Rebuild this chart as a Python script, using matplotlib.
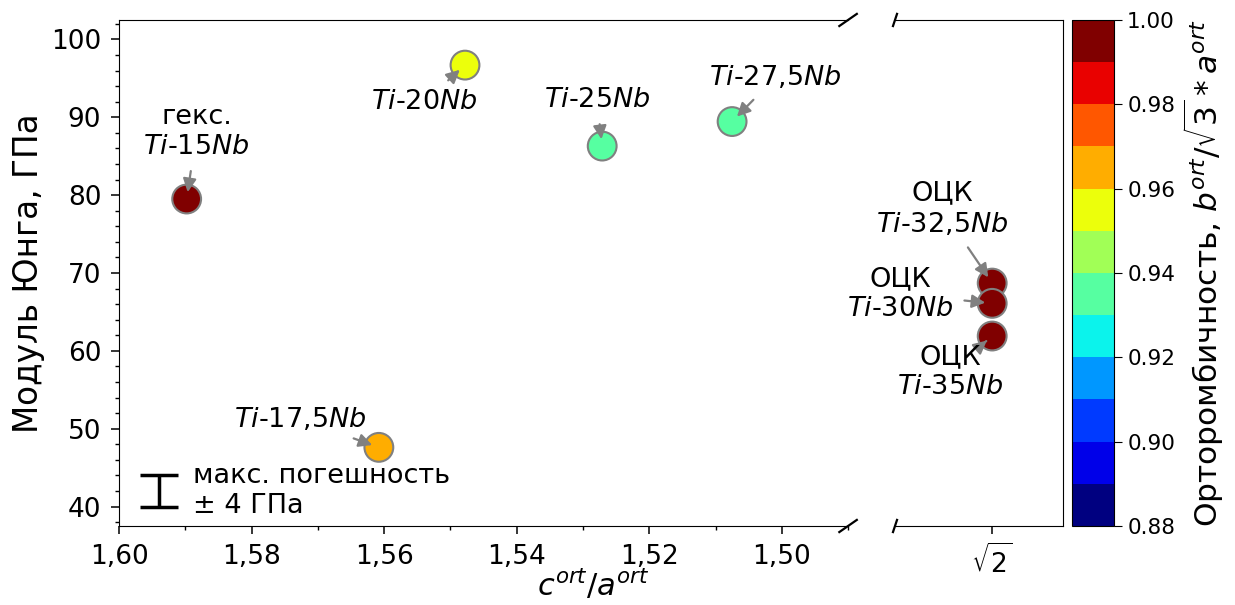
import numpy as np
import matplotlib
matplotlib.use('Agg')
import matplotlib.pyplot as plt
from matplotlib.ticker import MultipleLocator, FuncFormatter

# hcp / orthorhombic alloys (left part of broken axis)
labels = ['гекс.\n$Ti$-15$Nb$', '$Ti$-17,5$Nb$', '$Ti$-20$Nb$',
          '$Ti$-25$Nb$', '$Ti$-27,5$Nb$']
ca_ratio = [1.5898, 1.5608, 1.5478, 1.5271, 1.5075]
modulus = [79.5, 47.6, 96.7, 86.3, 89.45]
ortho = [0.995, 0.965, 0.955, 0.935, 0.935]

# bcc alloys, c/a = sqrt(2)
bcc_labels = ['ОЦК\n$Ti$-32,5$Nb$', 'ОЦК\n$Ti$-30$Nb$', 'ОЦК\n$Ti$-35$Nb$']
bcc_ca = [np.sqrt(2), np.sqrt(2), np.sqrt(2)]
bcc_modulus = [68.7, 66.1, 61.9]
bcc_ortho = [0.995, 0.995, 0.995]

# label positions (data coords)
text_pos = [(1.5883, 88.1), (1.5727, 51.2), (1.5539, 92.0),
            (1.5279, 92.2), (1.5010, 95.1)]
bcc_text_pos = [(1.41721, 78.2), (1.4197, 67.3), (1.41673, 57.3)]

err_x, err_y, err_val = 1.5939, 42.0, 2.0

fs = 19.5
tfs = 19
cmap = plt.get_cmap('jet', 12)
vmin, vmax = 0.88, 1.00

fig = plt.figure(figsize=(12.35, 6.05), dpi=100)
ax1 = fig.add_axes([0.0964, 0.1306, 0.5903, 0.8364])
ax2 = fig.add_axes([0.7247, 0.1306, 0.1360, 0.8364])
cax = fig.add_axes([0.868, 0.1306, 0.034, 0.8364])

arrow = dict(arrowstyle='-|>', color='gray', lw=1.6, mutation_scale=20,
             shrinkA=6, shrinkB=5)

sc = ax1.scatter(ca_ratio, modulus, c=ortho, cmap=cmap, vmin=vmin, vmax=vmax,
                 s=430, edgecolors='gray', linewidths=1.5, zorder=3)
for lab, x, y, tp in zip(labels, ca_ratio, modulus, text_pos):
    ax1.annotate(lab, xy=(x, y), xytext=tp, ha='center', va='center',
                 fontsize=fs, arrowprops=arrow, zorder=4)

ax2.scatter(bcc_ca, bcc_modulus, c=bcc_ortho, cmap=cmap, vmin=vmin, vmax=vmax,
            s=430, edgecolors='gray', linewidths=1.5, zorder=3)
for lab, x, y, tp in zip(bcc_labels, bcc_ca, bcc_modulus, bcc_text_pos):
    ax2.annotate(lab, xy=(x, y), xytext=tp, ha='center', va='center',
                 fontsize=fs, arrowprops=arrow, zorder=4)

# max error marker
ax1.errorbar([err_x], [err_y], yerr=[err_val], color='k', capsize=14,
             elinewidth=2.5, capthick=2.5)
ax1.text(1.5889, err_y, 'макс. погешность\n± 4 ГПа', ha='left', va='center',
         fontsize=fs)

ax1.set_xlim(1.60, 1.49)
ax1.set_ylim(37.5, 102.5)
ax2.set_xlim(1.42, 1.41)
ax2.set_ylim(37.5, 102.5)

ax1.xaxis.set_major_locator(MultipleLocator(0.02))
ax1.xaxis.set_minor_locator(MultipleLocator(0.01))
ax1.xaxis.set_major_formatter(FuncFormatter(lambda v, p: f'{v:.2f}'.replace('.', ',')))
ax1.yaxis.set_major_locator(MultipleLocator(10))
ax1.yaxis.set_minor_locator(MultipleLocator(2))
for a in (ax1, ax2):
    a.tick_params(which='major', labelsize=tfs, length=5.8, width=1.1, pad=7)
    a.tick_params(which='minor', length=3.2, width=1.0)

ax2.set_xticks([np.sqrt(2)])
ax2.set_xticklabels([r'$\sqrt{2}$'])
ax2.set_yticks([])

ax1.spines['right'].set_visible(False)
ax2.spines['left'].set_visible(False)

# break marks
d = 0.012
kw = dict(color='k', clip_on=False, lw=1.6)
ax1.plot((1 - d, 1 + d), (-d, d), transform=ax1.transAxes, **kw)
ax1.plot((1 - d, 1 + d), (1 - d, 1 + d), transform=ax1.transAxes, **kw)
ax2.plot((-d, d), (-d, d), transform=ax2.transAxes, **kw)
ax2.plot((-d, d), (1 - d, 1 + d), transform=ax2.transAxes, **kw)

ax1.set_ylabel('Модуль Юнга, ГПа', fontsize=23.5)
fig.text(0.48, 0.005, r'$c^{ort}/a^{ort}$', ha='center', va='bottom', fontsize=22)

cb = fig.colorbar(sc, cax=cax, ticks=np.arange(0.88, 1.001, 0.02))
cb.ax.yaxis.set_major_formatter(FuncFormatter(lambda v, p: f'{v:.2f}'))
cb.ax.tick_params(labelsize=15.5, length=6)
cb.set_label(r'Орторомбичность, $b^{ort}/\sqrt{3}*a^{ort}$', fontsize=22.5)

fig.savefig('out.png', dpi=100)
